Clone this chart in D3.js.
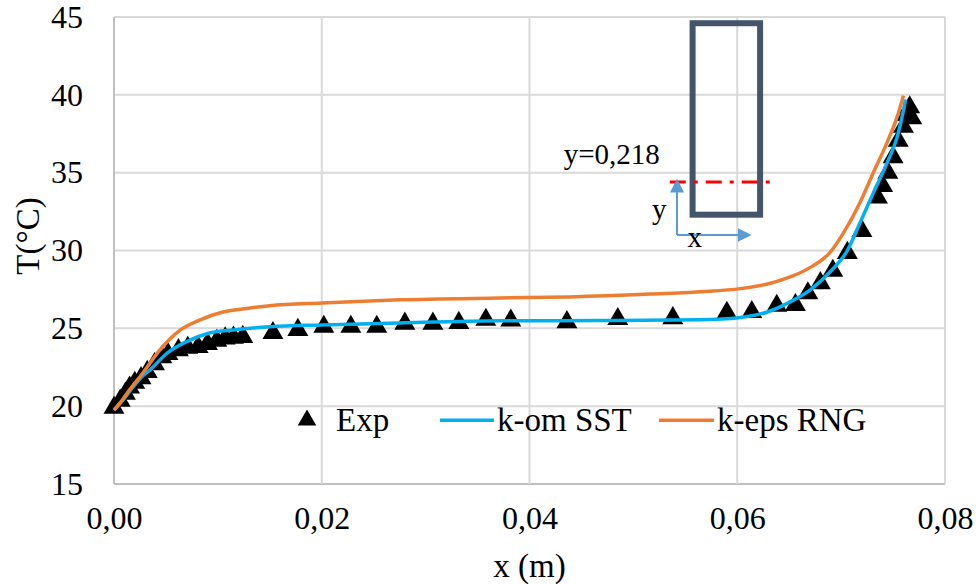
<!DOCTYPE html>
<html>
<head>
<meta charset="utf-8">
<script src="https://cdn.jsdelivr.net/npm/d3@7"></script>
<style>
  body { margin: 0; background: #fff; }
  text { font-family: 'Liberation Serif', 'Times New Roman', serif; fill: #000; }
</style>
</head>
<body>
<script>
// experimental points (x in m, T in °C)
let expX = [0, 0.0006, 0.0011, 0.0015, 0.0020, 0.0026, 0.0032, 0.0039, 0.0046, 0.0052, 0.0062, 0.0071,
  0.0081, 0.0090, 0.0099, 0.0107, 0.0115, 0.0124, 0.0153, 0.0177, 0.0202, 0.0228, 0.0253, 0.0280,
  0.0307, 0.0332, 0.0358, 0.0382, 0.0436, 0.0485, 0.0538, 0.0590, 0.0614, 0.0638, 0.0656, 0.0668,
  0.0680, 0.0692, 0.0706, 0.0720, 0.0735, 0.0740, 0.0745, 0.0750, 0.0755, 0.0760, 0.0763, 0.0766, 0.0768];
let expT = [19.9, 20.35, 20.8, 21.2, 21.5, 21.8, 22.2, 22.7, 23.15, 23.35, 23.6, 23.75,
  23.8, 24.0, 24.2, 24.35, 24.4, 24.45, 24.7, 24.9, 25.1, 25.1, 25.1, 25.3,
  25.3, 25.35, 25.55, 25.5, 25.4, 25.6, 25.65, 26.0, 26.05, 26.45, 26.5, 27.25,
  27.9, 28.7, 29.85, 31.25, 33.4, 34.15, 35.0, 36.0, 37.05, 37.95, 38.7, 39.2, 38.5];

// k-om SST
let sstX = [0, 0.001, 0.0018, 0.0027, 0.0035, 0.0051, 0.0070, 0.0092, 0.0115, 0.0150, 0.0200, 0.0275,
  0.0372, 0.0468, 0.0564, 0.0603, 0.0629, 0.0651, 0.0670, 0.0689, 0.0706, 0.0718, 0.0731, 0.0744,
  0.0754, 0.0760, 0.0762];
let sstT = [19.75, 20.5, 21.2, 21.9, 22.35, 23.4, 24.15, 24.7, 24.9, 25.1, 25.22, 25.35,
  25.48, 25.5, 25.55, 25.7, 26.05, 26.7, 27.45, 28.6, 30.0, 31.75, 33.7, 35.6,
  37.3, 39.0, 39.7];

// k-eps RNG
let rngX = [0, 0.0008, 0.0015, 0.0028, 0.0044, 0.0064, 0.0083, 0.0105, 0.0131, 0.0150, 0.0200, 0.0275,
  0.0372, 0.0439, 0.0516, 0.0564, 0.0603, 0.0632, 0.0651, 0.0670, 0.0689, 0.0702, 0.0718, 0.0731,
  0.0744, 0.0754, 0.0760];
let rngT = [19.75, 20.4, 21.05, 22.15, 23.6, 24.9, 25.55, 26.05, 26.3, 26.45, 26.63, 26.83,
  26.95, 27.02, 27.2, 27.35, 27.55, 27.9, 28.3, 28.9, 29.85, 31.1, 33.05, 35.0,
  36.9, 38.6, 39.95];

let xTicks = [0, 0.02, 0.04, 0.06, 0.08];
let yTicks = [15, 20, 25, 30, 35, 40, 45];
let seriesNames = ["Exp", "k-om SST", "k-eps RNG"];

let W = 976, H = 584;
let margin = {left: 114, right: 31, top: 17, bottom: 100};
let serif = "'Liberation Serif', 'Times New Roman', serif";

let svg = d3.select("body").append("svg")
  .attr("width", W)
  .attr("height", H);

let x = d3.scaleLinear().domain([0, 0.08]).range([margin.left, W - margin.right]);
let y = d3.scaleLinear().domain([15, 45]).range([H - margin.bottom, margin.top]);

// grid
svg.append("g").selectAll("line.h").data(yTicks).enter().append("line")
  .attr("x1", x(0)).attr("x2", x(0.08))
  .attr("y1", d => y(d)).attr("y2", d => y(d))
  .attr("stroke", d => d == 15 ? "#bfbfbf" : "#d9d9d9")
  .attr("stroke-width", 2);
svg.append("g").selectAll("line.v").data(xTicks).enter().append("line")
  .attr("x1", d => x(d)).attr("x2", d => x(d))
  .attr("y1", y(15)).attr("y2", y(45))
  .attr("stroke", d => d == 0 ? "#bfbfbf" : "#d9d9d9")
  .attr("stroke-width", 2);

// axes labels
let fmt = d => d.toFixed(2).replace(".", ",");
let xAxis = d3.axisBottom(x).tickValues(xTicks).tickFormat(fmt).tickSize(0).tickPadding(22);
let yAxis = d3.axisLeft(y).tickValues(yTicks).tickSize(0).tickPadding(31);
let gx = svg.append("g").attr("transform", "translate(0," + y(15) + ")").call(xAxis);
let gy = svg.append("g").attr("transform", "translate(" + x(0) + ",0)").call(yAxis);
[gx, gy].forEach(g => {
  g.attr("font-family", null).attr("font-size", null);
  g.select(".domain").remove();
  g.selectAll("text").style("font-size", "32px").style("font-family", serif);
});

svg.append("text")
  .attr("x", (x(0) + x(0.08)) / 2).attr("y", 577)
  .attr("text-anchor", "middle").style("font-size", "33px")
  .text("x (m)");
svg.append("text")
  .attr("transform", "translate(39,236) rotate(-90)")
  .attr("text-anchor", "middle").style("font-size", "33px")
  .text("T(°C)");

// inset sketch (placed in data units)
let blue = "#5B9BD5";
svg.append("rect")
  .attr("x", x(0.0557)).attr("y", y(44.6))
  .attr("width", x(0.0622) - x(0.0557)).attr("height", y(32.3) - y(44.6))
  .attr("fill", "none").attr("stroke", "#44546A").attr("stroke-width", 6);
svg.append("line")
  .attr("x1", x(0.0535)).attr("x2", x(0.0632))
  .attr("y1", y(34.4)).attr("y2", y(34.4))
  .attr("stroke", "#ff0000").attr("stroke-width", 3)
  .attr("stroke-dasharray", "16,8,4,8");
svg.append("defs").append("marker")
  .attr("id", "arr").attr("viewBox", "0 0 10 10").attr("refX", 2).attr("refY", 5)
  .attr("markerWidth", 14).attr("markerHeight", 14).attr("orient", "auto")
  .attr("markerUnits", "userSpaceOnUse")
  .append("path").attr("d", "M0,0 L10,5 L0,10 z").attr("fill", blue);
svg.append("line")
  .attr("x1", x(0.0542)).attr("x2", x(0.0542))
  .attr("y1", y(31.0)).attr("y2", y(33.9))
  .attr("stroke", blue).attr("stroke-width", 2)
  .attr("marker-end", "url(#arr)");
svg.append("line")
  .attr("x1", x(0.0542)).attr("x2", x(0.0603))
  .attr("y1", y(31.0)).attr("y2", y(31.0))
  .attr("stroke", blue).attr("stroke-width", 2)
  .attr("marker-end", "url(#arr)");
svg.append("text").attr("x", x(0.0433)).attr("y", y(35.55))
  .style("font-size", "29px").text("y=0,218");
svg.append("text").attr("x", x(0.0518)).attr("y", y(32.05))
  .style("font-size", "29px").text("y");
svg.append("text").attr("x", x(0.0552)).attr("y", y(30.2))
  .style("font-size", "29px").text("x");

// experimental triangles
let expData = expX.map((d, i) => ({x: d, t: expT[i]}));
let tri = d3.symbol().type(d3.symbolTriangle).size(190);
svg.append("g").selectAll("path").data(expData).enter().append("path")
  .attr("d", tri)
  .attr("transform", d => "translate(" + x(d.x) + "," + y(d.t) + ")")
  .attr("fill", "#000");

// model lines
let line = d3.line().x(d => x(d.x)).y(d => y(d.t)).curve(d3.curveMonotoneX);
let sstData = sstX.map((d, i) => ({x: d, t: sstT[i]}));
let rngData = rngX.map((d, i) => ({x: d, t: rngT[i]}));
svg.append("path").datum(sstData).attr("d", line)
  .attr("fill", "none").attr("stroke", "#00B0F0").attr("stroke-width", 3.5);
svg.append("path").datum(rngData).attr("d", line)
  .attr("fill", "none").attr("stroke", "#ED7D31").attr("stroke-width", 3.5);

// legend
let ly = y(20) + 14;
let leg = svg.append("g");
leg.append("path").attr("d", d3.symbol().type(d3.symbolTriangle).size(150))
  .attr("transform", "translate(" + 307 + "," + ly + ")");
leg.append("text").attr("x", 336).attr("y", ly + 11).style("font-size", "33px").text(seriesNames[0]);
leg.append("line").attr("x1", 440).attr("x2", 494).attr("y1", ly).attr("y2", ly)
  .attr("stroke", "#00B0F0").attr("stroke-width", 3.5);
leg.append("text").attr("x", 497).attr("y", ly + 11).style("font-size", "33px").text(seriesNames[1]);
leg.append("line").attr("x1", 659).attr("x2", 714).attr("y1", ly).attr("y2", ly)
  .attr("stroke", "#ED7D31").attr("stroke-width", 3.5);
leg.append("text").attr("x", 717).attr("y", ly + 11).style("font-size", "33px").text(seriesNames[2]);
</script>
</body>
</html>
